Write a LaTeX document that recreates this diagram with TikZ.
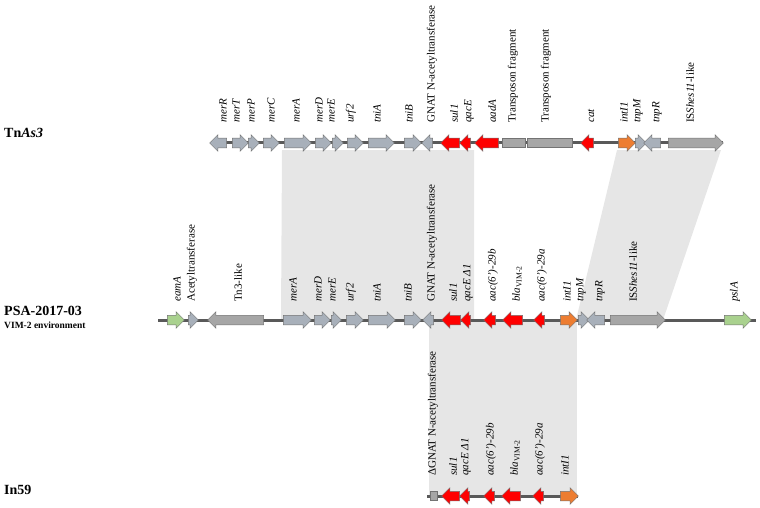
\documentclass[tikz,border=0pt]{standalone}
\usepackage{fontspec}
\setmainfont{Liberation Serif}
\usetikzlibrary{shapes.arrows}

\definecolor{genegray}{RGB}{168,176,186}
\definecolor{tngray}{RGB}{166,166,166}
\definecolor{resred}{RGB}{255,0,0}
\definecolor{intorange}{RGB}{237,125,49}
\definecolor{flankgreen}{RGB}{169,209,142}
\definecolor{homolog}{RGB}{230,230,230}
\definecolor{trackgray}{RGB}{89,89,89}

\begin{document}
\begin{tikzpicture}[x=1pt, y=-1pt,
			gene/.style={single arrow, draw=black!55, line width=0.5pt, inner xsep=0pt, inner ysep=4.5pt, minimum width=0pt, single arrow head extend=3.5pt, single arrow head indent=0pt, single arrow tip angle=90},
			fwd/.style 2 args={gene, fill=#1, minimum height=#2},
			rev/.style 2 args={gene, fill=#1, minimum height=#2, shape border rotate=180},
			fragbox/.style 2 args={rectangle, draw=black!55, line width=0.5pt, fill=#1, inner sep=0pt, minimum height=9pt, minimum width=#2},
			lab/.style={rotate=90, anchor=west, inner sep=0pt, font=\fontsize{11}{13}\selectfont},
			title/.style={anchor=west, inner sep=0pt, font=\fontsize{14}{16}\selectfont\bfseries},
			track/.style={trackgray, line width=3pt}
			]
			\useasboundingbox (0,0) rectangle (760,508);
			
			% Homologous regions
			\fill[homolog] (282,150) -- (474,150) -- (474,320) -- (281,320) -- cycle;
			\fill[homolog] (617,150) -- (721,150) -- (663,320) -- (576,320) -- cycle;
			\fill[homolog] (429,320) -- (577,320) -- (577,496) -- (429,496) -- cycle;
			
			% Backbones
			\coordinate (a0) at (211,143);
			\coordinate (a1) at (723,143);
			\coordinate (p0) at (158,320);
			\coordinate (p1) at (756,320);
			\coordinate (i0) at (427,496);
			\coordinate (i1) at (578,496);
			\draw[track] (a0) -- (a1);
			\draw[track] (p0) -- (p1);
			\draw[track] (i0) -- (i1);
			
			% Tn As3
			\node[title] (tnas) at (4,133) {Tn\textit{As3}};
			\node[rev={genegray}{17pt}] (amerR) at (220.5,143) {};
			\node[fwd={genegray}{16pt}] (amerT) at (238,143) {};
			\node[fwd={genegray}{11pt}] (amerP) at (251.5,143) {};
			\node[fwd={genegray}{16pt}] (amerC) at (269,143) {};
			\node[fwd={genegray}{27pt}] (amerA) at (295.5,143) {};
			\node[fwd={genegray}{16pt}] (amerD) at (321,143) {};
			\node[fwd={genegray}{11pt}] (amerE) at (335.5,143) {};
			\node[fwd={genegray}{16pt}] (aurf) at (353,143) {};
			\node[fwd={genegray}{26pt}] (atniA) at (379,143) {};
			\node[fwd={genegray}{17pt}] (atniB) at (410.5,143) {};
			\node[rev={genegray}{11pt}] (agnat) at (429.5,143) {};
			\node[rev={resred}{19pt}] (asul) at (452.5,143) {};
			\node[rev={resred}{11pt}] (aqac) at (467.5,143) {};
			\node[rev={resred}{24pt}] (aaad) at (489,143) {};
			\node[fragbox={tngray}{23pt}] (afragA) at (513.5,143) {};
			\node[fragbox={tngray}{45pt}] (afragB) at (549.5,143) {};
			\node[rev={resred}{13pt}] (acat) at (589.5,143) {};
			\node[fwd={intorange}{17pt}] (aint) at (624.5,143) {};
			\node[fwd={genegray}{11pt}] (atnpM) at (638.5,143) {};
			\node[rev={genegray}{17pt}] (atnpR) at (654.5,143) {};
			\node[fwd={tngray}{55pt}] (ais) at (693.5,143) {};
			
			\node[lab] (amerR-t) at (223,123) {\textit{merR}};
			\node[lab] (amerT-t) at (236,123) {\textit{merT}};
			\node[lab] (amerP-t) at (251,123) {\textit{merP}};
			\node[lab] (amerC-t) at (271,123) {\textit{merC}};
			\node[lab] (amerA-t) at (296,123) {\textit{merA}};
			\node[lab] (amerD-t) at (319,123) {\textit{merD}};
			\node[lab] (amerE-t) at (331,123) {\textit{merE}};
			\node[lab] (aurf-t) at (351,123) {\textit{urf2}};
			\node[lab] (atniA-t) at (377,123) {\textit{tniA}};
			\node[lab] (atniB-t) at (409,123) {\textit{tniB}};
			\node[lab] (agnat-t) at (432,123) {GNAT N-acetyltransferase};
			\node[lab] (asul-t) at (454,123) {\textit{sul1}};
			\node[lab] (aqac-t) at (469,123) {\textit{qacE}};
			\node[lab] (aaad-t) at (492,123) {\textit{aadA}};
			\node[lab] (afragA-t) at (513,123) {Transposon fragment};
			\node[lab] (afragB-t) at (546,123) {Transposon fragment};
			\node[lab] (acat-t) at (591,123) {\textit{cat}};
			\node[lab] (aint-t) at (624,123) {\textit{intI1}};
			\node[lab] (atnpM-t) at (638,123) {\textit{tnpM}};
			\node[lab] (atnpR-t) at (657,123) {\textit{tnpR}};
			\node[lab] (ais-t) at (690,123) {IS\textit{Shes11}-like};
			
			% PSA-2017-03
			\node[title] (psa) at (4,311) {PSA-2017-03};
			\node[anchor=west, inner sep=0pt, font=\fontsize{9.5}{11}\selectfont\bfseries] (psa-env) at (4,325) {VIM-2 environment};
			\node[fwd={flankgreen}{17pt}] (peam) at (173.5,320) {};
			\node[fwd={genegray}{10pt}] (pacet) at (191,320) {};
			\node[rev={tngray}{56pt}] (ptn) at (238,320) {};
			\node[fwd={genegray}{28pt}] (pmerA) at (295,320) {};
			\node[fwd={genegray}{16pt}] (pmerD) at (320,320) {};
			\node[fwd={genegray}{10pt}] (pmerE) at (334,320) {};
			\node[fwd={genegray}{17pt}] (purf) at (352.5,320) {};
			\node[fwd={genegray}{27pt}] (ptniA) at (379.5,320) {};
			\node[fwd={genegray}{17pt}] (ptniB) at (410.5,320) {};
			\node[rev={genegray}{11pt}] (pgnat) at (430.5,320) {};
			\node[rev={resred}{19pt}] (psul) at (453.5,320) {};
			\node[rev={resred}{10pt}] (pqac) at (468,320) {};
			\node[rev={resred}{12pt}] (paacB) at (492,320) {};
			\node[rev={resred}{20pt}] (pbla) at (515,320) {};
			\node[rev={resred}{11pt}] (paacA) at (541.5,320) {};
			\node[fwd={intorange}{17pt}] (pint) at (566.5,320) {};
			\node[fwd={genegray}{11pt}] (ptnpM) at (581.5,320) {};
			\node[rev={genegray}{18pt}] (ptnpR) at (598,320) {};
			\node[fwd={tngray}{55pt}] (pis) at (635.5,320) {};
			\node[fwd={flankgreen}{27pt}] (ppsl) at (735.5,320) {};
			
			\node[lab] (peam-t) at (177,302) {\textit{eamA}};
			\node[lab] (pacet-t) at (192,302) {Acetyltransferase};
			\node[lab] (ptn-t) at (238,302) {Tn3-like};
			\node[lab] (pmerA-t) at (293,302) {\textit{merA}};
			\node[lab] (pmerD-t) at (318,302) {\textit{merD}};
			\node[lab] (pmerE-t) at (332,302) {\textit{merE}};
			\node[lab] (purf-t) at (351,302) {\textit{urf2}};
			\node[lab] (ptniA-t) at (377,302) {\textit{tniA}};
			\node[lab] (ptniB-t) at (408,302) {\textit{tniB}};
			\node[lab] (pgnat-t) at (432,302) {GNAT N-acetyltransferase};
			\node[lab] (psul-t) at (453,302) {\textit{sul1}};
			\node[lab] (pqac-t) at (468,302) {\textit{qacE Δ1}};
			\node[lab] (paacB-t) at (493,302) {\textit{aac(6')-29b}};
			\node[lab] (pbla-t) at (517,302) {\textit{bla}\textsubscript{VIM-2}};
			\node[lab] (paacA-t) at (542,302) {\textit{aac(6')-29a}};
			\node[lab] (pint-t) at (567,302) {\textit{intI1}};
			\node[lab] (ptnpM-t) at (581,302) {\textit{tnpM}};
			\node[lab] (ptnpR-t) at (600,302) {\textit{tnpR}};
			\node[lab] (pis-t) at (633,302) {IS\textit{Shes11}-like};
			\node[lab] (ppsl-t) at (735,302) {\textit{pslA}};
			
			% In59
			\node[title] (in) at (4,490) {In59};
			\node[fragbox={tngray}{7pt}] (ignat) at (433.5,496) {};
			\node[rev={resred}{18pt}] (isul) at (453,496) {};
			\node[rev={resred}{10pt}] (iqac) at (467,496) {};
			\node[rev={resred}{11pt}] (iaacB) at (491.5,496) {};
			\node[rev={resred}{19pt}] (ibla) at (513.5,496) {};
			\node[rev={resred}{11pt}] (iaacA) at (540.5,496) {};
			\node[fwd={intorange}{18pt}] (iint) at (567,496) {};
			
			\node[lab] (ignat-t) at (433,476) {ΔGNAT N-acetyltransferase};
			\node[lab] (isul-t) at (453,476) {\textit{sul1}};
			\node[lab] (iqac-t) at (466,476) {\textit{qacE Δ1}};
			\node[lab] (iaacB-t) at (491,476) {\textit{aac(6')-29b}};
			\node[lab] (ibla-t) at (515,476) {\textit{bla}\textsubscript{VIM-2}};
			\node[lab] (iaacA-t) at (540,476) {\textit{aac(6')-29a}};
			\node[lab] (iint-t) at (565,476) {\textit{intI1}};
		\end{tikzpicture}
\end{document}
